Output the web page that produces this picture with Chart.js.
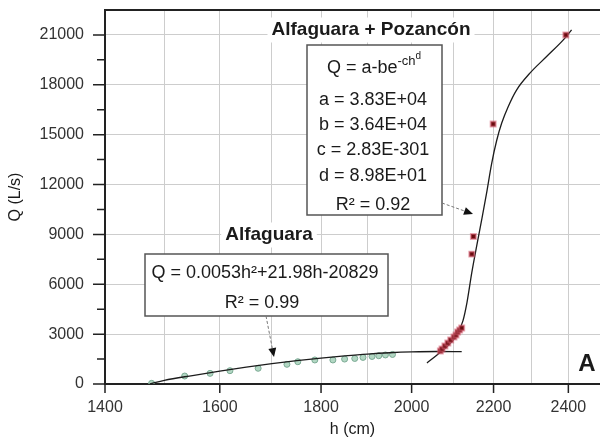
<!DOCTYPE html>
<html>
<head>
<meta charset="utf-8">
<title>Curva de gasto - Alfaguara / Pozancón</title>
<script src="https://cdn.jsdelivr.net/npm/chart.js@4.4.1/dist/chart.umd.min.js"></script>
<style>
    html, body { margin: 0; padding: 0; background: #fff; }
    canvas { display: block; }
</style>
</head>
<body>
<canvas id="ratingChart" width="600" height="442"></canvas>
<script>
// ========== DATA ==========
// stage h (cm) / discharge Q (L/s), Alfaguara gauge
const alfH = [1478, 1536, 1582, 1619, 1673, 1730, 1752, 1787, 1825, 1850, 1872, 1890, 1910, 1925, 1940, 1956];
const alfQ = [40, 480, 640, 800, 945, 1185, 1340, 1445, 1445, 1500, 1536, 1600, 1657, 1700, 1747, 1777];

// Alfaguara fitted curve
const alfFitH = [1475, 1500, 1550, 1600, 1650, 1700, 1750, 1800, 1850, 1900, 1950, 2000, 2060, 2120];
const alfFitQ = [0, 220, 510, 770, 1010, 1220, 1400, 1560, 1690, 1800, 1880, 1930, 1955, 1950];

// Alfaguara + Pozancón gauge
const pozH = [2068, 2072, 2079, 2086, 2093, 2101, 2106, 2110, 2115, 2120, 2145, 2149, 2199, 2393];
const pozQ = [1985, 2106, 2287, 2467, 2648, 2828, 2948, 3129, 3249, 3369, 7813, 8875, 15640, 21000];

// Alfaguara + Pozancón fitted curve
const pozFitH = [2036, 2060, 2084, 2108, 2123, 2133, 2145, 2158, 2170, 2182, 2195, 2208, 2221, 2238, 2260, 2295, 2340, 2386, 2409];
const pozFitQ = [1264, 1745, 2250, 2950, 3800, 4900, 6700, 8400, 9900, 11450, 13250, 14650, 15700, 16700, 17700, 18700, 19700, 20700, 21300];

// axes
const hGrid = [1400, 1500, 1600, 1700, 1800, 1900, 2000, 2100, 2200, 2300, 2400];
const hLabels = [1400, 1600, 1800, 2000, 2200, 2400];
const qTicks = [0, 3000, 6000, 9000, 12000, 15000, 18000, 21000];

// ========== STYLE ==========
const fontFamily = '"Liberation Sans", Arial, Helvetica, sans-serif';
const colors = {
    axis: '#222',
    grid: '#cdcdcd',
    tickText: '#333',
    fit: '#1c1c1c',
    alf: 'rgba(165, 208, 185, 0.85)',
    alfEdge: '#7aa993',
    poz: '#6a0c10',
    pozHalo: 'rgba(215, 95, 115, 0.55)',
    ink: '#1a1a1a',
    box: '#555',
    leader: '#777',
};

Chart.defaults.font.family = fontFamily;

const toPoints = (xs, ys) => xs.map((x, i) => ({ x: x, y: ys[i] }));

// ========== HELPERS ==========
function drawText(ctx, str, x, y, size, weight, align) {
    ctx.font = `${weight || 'normal'} ${size}px ${fontFamily}`;
    ctx.textAlign = align || 'center';
    ctx.textBaseline = 'middle';
    ctx.fillText(str, x, y);
}

function drawTitle(ctx, str, x, y, size) {
    ctx.font = `bold ${size}px ${fontFamily}`;
    const w = ctx.measureText(str).width;
    ctx.fillStyle = '#fff';
    ctx.fillRect(x - w / 2 - 4, y - size / 2 - 3, w + 8, size + 6);
    ctx.fillStyle = colors.ink;
    drawText(ctx, str, x, y, size, 'bold');
}

function drawBox(ctx, x, y, w, h) {
    ctx.fillStyle = '#fff';
    ctx.fillRect(x, y, w, h);
    ctx.strokeStyle = colors.box;
    ctx.lineWidth = 1.5;
    ctx.strokeRect(x, y, w, h);
}

function drawArrow(ctx, x0, y0, x1, y1) {
    const ang = Math.atan2(y1 - y0, x1 - x0);
    const head = 9;
    const bx = x1 - head * Math.cos(ang);
    const by = y1 - head * Math.sin(ang);
    ctx.save();
    ctx.strokeStyle = colors.leader;
    ctx.lineWidth = 1;
    ctx.setLineDash([3, 2]);
    ctx.beginPath();
    ctx.moveTo(x0, y0);
    ctx.lineTo(bx, by);
    ctx.stroke();
    ctx.setLineDash([]);
    ctx.fillStyle = '#111';
    ctx.beginPath();
    ctx.moveTo(x1, y1);
    ctx.lineTo(bx + 4 * Math.sin(ang), by - 4 * Math.cos(ang));
    ctx.lineTo(bx - 4 * Math.sin(ang), by + 4 * Math.cos(ang));
    ctx.closePath();
    ctx.fill();
    ctx.restore();
}

// Q = a-be^(-ch^d) with nested superscripts
function drawModel(ctx, cx, cy) {
    const parts = [
        { t: 'Q = a-be', size: 18, dy: 0 },
        { t: '-ch', size: 13, dy: -7 },
        { t: 'd', size: 10, dy: -12 },
    ];
    let total = 0;
    parts.forEach(p => {
        ctx.font = `${p.size}px ${fontFamily}`;
        p.w = ctx.measureText(p.t).width;
        total += p.w;
    });
    let x = cx - total / 2;
    parts.forEach(p => {
        drawText(ctx, p.t, x, cy + p.dy, p.size, 'normal', 'left');
        x += p.w;
    });
}

// ========== ANNOTATIONS, FRAME, TICK MARKS ==========
const framePlugin = {
    id: 'frame',
    afterDraw(chart) {
        const { ctx, chartArea: area, scales: { x, y } } = chart;
        ctx.save();
        ctx.fillStyle = colors.ink;

        // Alfaguara + Pozancón
        drawTitle(ctx, 'Alfaguara + Pozancón', 371, 30, 19);
        drawBox(ctx, 307, 45, 135, 170);
        ctx.fillStyle = colors.ink;
        drawModel(ctx, 374, 68);
        drawText(ctx, 'a = 3.83E+04', 373, 100, 18);
        drawText(ctx, 'b = 3.64E+04', 373, 125, 18);
        drawText(ctx, 'c = 2.83E-301', 373, 150, 18);
        drawText(ctx, 'd = 8.98E+01', 373, 176, 18);
        drawText(ctx, 'R² = 0.92', 373, 205, 18);
        drawArrow(ctx, 442, 203, 473, 214);

        // Alfaguara
        drawTitle(ctx, 'Alfaguara', 269, 235, 19);
        drawBox(ctx, 145, 254, 243, 62);
        ctx.fillStyle = colors.ink;
        drawText(ctx, 'Q = 0.0053h²+21.98h-20829', 265, 273, 18);
        drawText(ctx, 'R² = 0.99', 262, 303, 18);
        drawArrow(ctx, 266, 316, 274, 357);

        // panel letter
        drawText(ctx, 'A', 587, 364, 24, 'bold');

        // top border
        ctx.strokeStyle = colors.axis;
        ctx.lineWidth = 2;
        ctx.beginPath();
        ctx.moveTo(area.left - 1, area.top);
        ctx.lineTo(area.right, area.top);
        ctx.stroke();

        // tick marks: long on labelled values, short halfway between
        ctx.lineWidth = 1.5;
        ctx.beginPath();
        qTicks.forEach((v, i) => {
            const py = y.getPixelForValue(v);
            ctx.moveTo(area.left - 12, py);
            ctx.lineTo(area.left, py);
            if (i < qTicks.length - 1) {
                const my = y.getPixelForValue((v + qTicks[i + 1]) / 2);
                ctx.moveTo(area.left - 8, my);
                ctx.lineTo(area.left, my);
            }
        });
        hLabels.forEach(v => {
            const px = x.getPixelForValue(v);
            ctx.moveTo(px, area.bottom);
            ctx.lineTo(px, area.bottom + 9);
        });
        ctx.stroke();

        ctx.restore();
    }
};

// ========== CHART ==========
const canvas = document.getElementById('ratingChart');

new Chart(canvas, {
    type: 'scatter',
    data: {
        datasets: [
            {
                label: 'Alfaguara + Pozancón',
                data: toPoints(pozH, pozQ),
                pointStyle: 'rect',
                pointRadius: 3.5,
                backgroundColor: colors.poz,
                borderColor: colors.pozHalo,
                borderWidth: 2,
            },
            {
                label: 'Ajuste Alfaguara',
                data: toPoints(alfFitH, alfFitQ),
                showLine: true,
                borderColor: colors.fit,
                borderWidth: 1.3,
                pointRadius: 0,
                cubicInterpolationMode: 'monotone',
            },
            {
                label: 'Ajuste Alfaguara + Pozancón',
                data: toPoints(pozFitH, pozFitQ),
                showLine: true,
                borderColor: colors.fit,
                borderWidth: 1.3,
                pointRadius: 0,
                cubicInterpolationMode: 'monotone',
            },
            {
                label: 'Alfaguara',
                data: toPoints(alfH, alfQ),
                pointRadius: 3,
                backgroundColor: colors.alf,
                borderColor: colors.alfEdge,
                borderWidth: 1,
            },
        ]
    },
    options: {
        responsive: false,
        animation: false,
        devicePixelRatio: 1,
        layout: {
            autoPadding: false,
            padding: { top: 10, right: 0, bottom: 0, left: 0 }
        },
        plugins: {
            legend: { display: false },
            tooltip: { enabled: false }
        },
        scales: {
            x: {
                type: 'logarithmic',
                bounds: 'data',
                min: 1400,
                max: 2490,
                afterBuildTicks: scale => {
                    scale.ticks = hGrid.map(v => ({ value: v }));
                },
                afterFit: scale => {
                    scale.height = 58;
                    scale.paddingLeft = 0;
                    scale.paddingRight = 0;
                },
                ticks: {
                    autoSkip: false,
                    maxRotation: 0,
                    padding: 14,
                    color: colors.tickText,
                    font: { size: 16 },
                    callback: value => hLabels.includes(value) ? String(value) : ''
                },
                grid: {
                    color: colors.grid,
                    lineWidth: 1,
                    drawTicks: false
                },
                border: {
                    color: colors.axis,
                    width: 2
                },
                title: {
                    display: true,
                    text: 'h (cm)',
                    color: colors.ink,
                    font: { size: 16 },
                    padding: { top: 0, bottom: 3 }
                }
            },
            y: {
                type: 'linear',
                bounds: 'data',
                min: 0,
                max: 22500,
                afterBuildTicks: scale => {
                    scale.ticks = qTicks.map(v => ({ value: v }));
                },
                afterFit: scale => {
                    scale.width = 105;
                    scale.paddingTop = 0;
                    scale.paddingBottom = 0;
                },
                ticks: {
                    padding: 21,
                    color: colors.tickText,
                    font: { size: 16 },
                    callback: value => String(value)
                },
                grid: {
                    color: colors.grid,
                    lineWidth: 1,
                    drawTicks: false
                },
                border: {
                    color: colors.axis,
                    width: 2
                },
                title: {
                    display: true,
                    text: 'Q (L/s)',
                    color: colors.ink,
                    font: { size: 16 },
                    padding: { top: 6, bottom: 0 }
                }
            }
        }
    },
    plugins: [framePlugin]
});
</script>
</body>
</html>
